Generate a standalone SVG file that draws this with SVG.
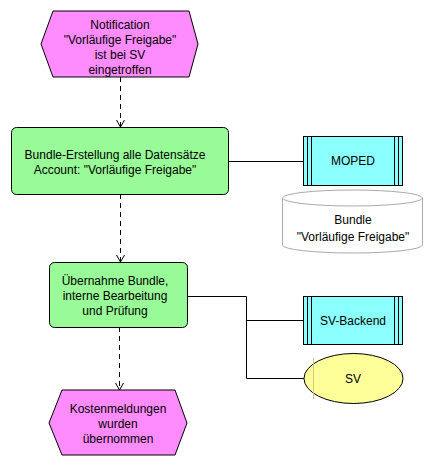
<svg xmlns="http://www.w3.org/2000/svg" width="433" height="467" viewBox="0 0 433 467">
<defs>
<style>
text{font-family:"Liberation Sans",Arial,sans-serif;font-size:12px;fill:#000;text-anchor:middle}
.ev{fill:#ff8cff;stroke:#000;stroke-width:1}
.fn{fill:#98fb98;stroke:#000;stroke-width:1}
.sys{fill:#8cffff;stroke:#000;stroke-width:1}
.ln{fill:none;stroke:#000;stroke-width:1}
.dash{fill:none;stroke:#000;stroke-width:1;stroke-dasharray:5,4}
</style>
<marker id="arr" markerWidth="10" markerHeight="10" refX="8" refY="5" orient="auto" markerUnits="userSpaceOnUse">
<path d="M1,1 L8,5 L1,9" fill="none" stroke="#000" stroke-width="1"/>
</marker>
</defs>
<g id="connectors">
<path class="dash" d="M120.5,77 V127" marker-end="url(#arr)"/>
<path class="dash" d="M120.5,194 V262" marker-end="url(#arr)"/>
<path class="dash" d="M119.5,327 V390" marker-end="url(#arr)"/>
<path class="ln" d="M229,161.5 H303"/>
<path class="ln" d="M188,296.5 H246.5 V378.5 H304"/>
<path class="ln" d="M246.5,320.5 H303"/>
</g>
<g id="ev1">
<polygon class="ev" points="53,11 189,11 198,44 189,77 53,77 41,44"/>
<text x="120" y="29">Notification</text>
<text x="120" y="44">"Vorläufige Freigabe"</text>
<text x="120" y="59">ist bei SV</text>
<text x="120" y="74">eingetroffen</text>
</g>
<g id="fn1">
<rect class="fn" x="11.5" y="127.5" width="217" height="67" rx="5"/>
<text x="115" y="159">Bundle-Erstellung alle Datensätze</text>
<text x="115" y="174">Account: "Vorläufige Freigabe"</text>
</g>
<g id="moped">
<rect class="sys" x="303.5" y="136.5" width="99" height="49"/>
<path class="ln" d="M307.5,136.5 V185.5 M311.5,136.5 V185.5 M394.5,136.5 V185.5 M398.5,136.5 V185.5"/>
<text x="353" y="165">MOPED</text>
</g>
<g id="bundle">
<path d="M282.5,198 V245 A70,8 0 0 0 422.5,245 V198" fill="#fff" stroke="#aaa"/>
<ellipse cx="352.5" cy="198" rx="70" ry="8" fill="#fff" stroke="#aaa"/>
<text x="353" y="224">Bundle</text>
<text x="353" y="241">"Vorläufige Freigabe"</text>
</g>
<g id="fn2">
<rect class="fn" x="49.5" y="262.5" width="138" height="65" rx="5"/>
<text x="115" y="285">Übernahme Bundle,</text>
<text x="115" y="300">interne Bearbeitung</text>
<text x="115" y="315">und Prüfung</text>
</g>
<g id="svbackend">
<rect class="sys" x="303.5" y="296.5" width="99" height="48"/>
<path class="ln" d="M307.5,296.5 V344.5 M311.5,296.5 V344.5 M394.5,296.5 V344.5 M398.5,296.5 V344.5"/>
<text x="353" y="325">SV-Backend</text>
</g>
<g id="sv">
<ellipse cx="353.5" cy="378.5" rx="49.5" ry="25" fill="#ffff99" stroke="#000"/>
<path d="M313.5,358 V399" stroke="#cccc88" stroke-width="1"/>
<text x="353" y="383">SV</text>
</g>
<g id="ev2">
<polygon class="ev" points="62,390 175,390 187,423 175,455 62,455 49,423"/>
<text x="118" y="413">Kostenmeldungen</text>
<text x="118" y="428">wurden</text>
<text x="118" y="443">übernommen</text>
</g>
</svg>
